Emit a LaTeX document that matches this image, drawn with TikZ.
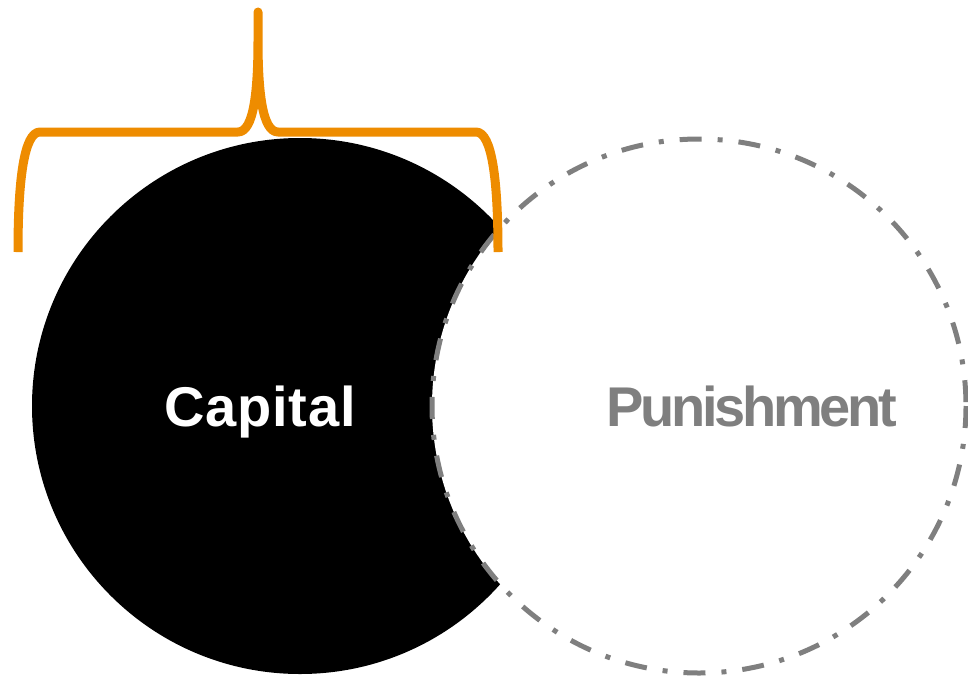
\documentclass[tikz,border=0pt]{standalone}
\usepackage{fontspec}
\setmainfont{Liberation Sans}
\usetikzlibrary{calc}
\definecolor{brace orange}{HTML}{EE8C00}
\definecolor{set grey}{HTML}{7F7F7F}

\begin{document}
\begin{tikzpicture}[x = 1pt, y = -1pt]
      \useasboundingbox (0, 0) rectangle (968, 677);
      % crescent: first set minus second set
      \fill[black] (300, 406) circle (268);
      \fill[white] (699, 406) circle (267);
      \draw[set grey, line width = 5pt, %
        dash pattern = on 22pt off 16pt on 5pt off 16pt] (699, 406) circle (267);
      % labels
      \node[inner sep = 0 pt, outer sep = 0 pt, anchor = base, text = white] (capital) %
        at (260, 426) {%
          \fontsize{56}{60}\bfseries\selectfont\addfontfeature{LetterSpace = 1.5}Capital%
        };
      \node[inner sep = 0 pt, outer sep = 0 pt, anchor = base, text = set grey] (punishment) %
        at (752, 426) {%
          \fontsize{56}{60}\bfseries\selectfont\addfontfeature{LetterSpace = -6}Punishment%
        };
      % brace over the first set
      \draw[brace orange, line width = 9pt, line join = round] %
        (18, 252) .. controls (18, 180) and (24, 132) .. (40, 132) %
        -- (238, 132) .. controls (254, 132) and (258, 90) .. (258, 40) %
        -- (258, 12) -- (258, 40) %
        .. controls (258, 90) and (262, 132) .. (278, 132) %
        -- (476, 132) .. controls (492, 132) and (498, 180) .. (498, 252);
    \end{tikzpicture}
\end{document}
